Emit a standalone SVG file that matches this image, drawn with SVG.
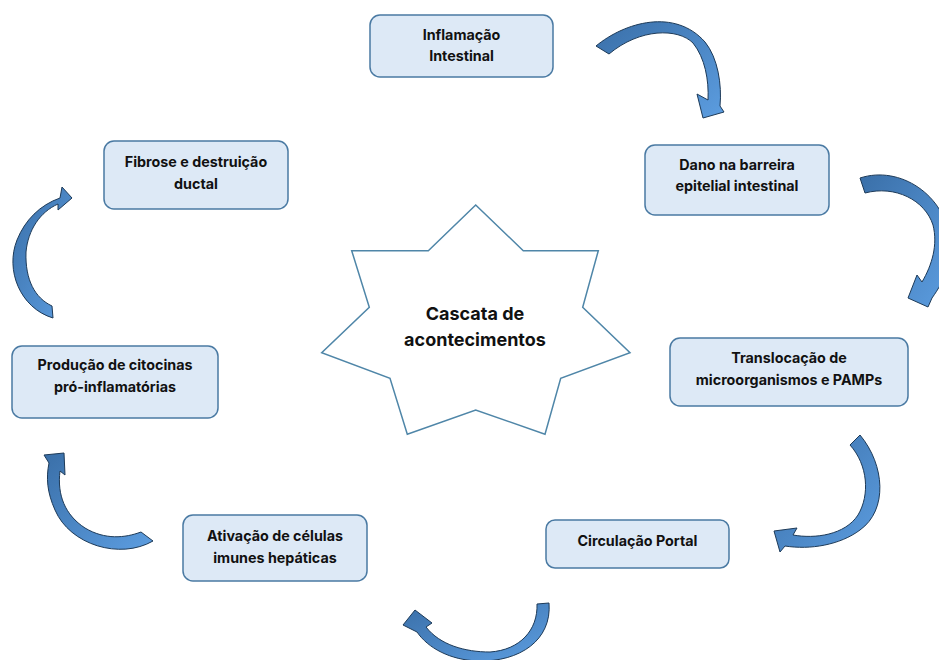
<svg xmlns="http://www.w3.org/2000/svg" width="939" height="660" viewBox="0 0 939 660">
<defs>
<linearGradient id="ag" x1="0" y1="0" x2="1" y2="1">
<stop offset="0" stop-color="#3a6fa8"/>
<stop offset="1" stop-color="#5c9de0"/>
</linearGradient>
<style>
.box{fill:#dde9f6;stroke:#4a7aa3;stroke-width:1.5}
.t{font-family:Inter,"Liberation Sans",sans-serif;font-weight:700;font-size:14.3px;fill:#111111;text-anchor:middle}
.st{font-family:Inter,"Liberation Sans",sans-serif;font-weight:700;font-size:18px;fill:#111111;text-anchor:middle}
.arr{fill:url(#ag);stroke:#1d3a58;stroke-width:1;stroke-linejoin:round}
.star{fill:#ffffff;stroke:#4f86a8;stroke-width:1.5}
</style>
</defs>
<rect width="939" height="660" fill="#ffffff"/>
<g id="star">
<polygon class="star" points="475.7,205 523.3,250.7 598.3,250.7 582.7,307.3 630,352.7 560.7,378.3 545,434.3 475.7,410 407.3,434.3 390,378.3 321.7,352.7 369.3,307.3 351.7,250.7 428.3,250.7"/>
<text class="st" x="475" y="320">Cascata de</text>
<text class="st" x="475" y="346">acontecimentos</text>
</g>
<g id="n1">
<rect class="box" x="370" y="15" width="183" height="62" rx="10"/>
<text class="t" x="461.5" y="40">Inflamação</text>
<text class="t" x="461.5" y="61">Intestinal</text>
</g>
<g id="n2">
<rect class="box" x="645" y="145" width="184" height="70" rx="10"/>
<text class="t" x="737" y="170">Dano na barreira</text>
<text class="t" x="737" y="191">epitelial intestinal</text>
</g>
<g id="n3">
<rect class="box" x="670" y="338" width="238" height="68" rx="10"/>
<text class="t" x="789" y="363">Translocação de</text>
<text class="t" x="789" y="385">microorganismos e PAMPs</text>
</g>
<g id="n4">
<rect class="box" x="546" y="520" width="183" height="48" rx="9"/>
<text class="t" x="637.5" y="546">Circulação Portal</text>
</g>
<g id="n5">
<rect class="box" x="183" y="515" width="184" height="66" rx="10"/>
<text class="t" x="275" y="541">Ativação de células</text>
<text class="t" x="275" y="563">imunes hepáticas</text>
</g>
<g id="n6">
<rect class="box" x="12" y="346" width="206" height="72" rx="10"/>
<text class="t" x="115" y="370">Produção de citocinas</text>
<text class="t" x="115" y="392">pró-inflamatórias</text>
</g>
<g id="n7">
<rect class="box" x="104" y="141" width="184" height="68" rx="10"/>
<text class="t" x="196" y="167">Fibrose e destruição</text>
<text class="t" x="196" y="189">ductal</text>
</g>
<g id="connectors">
<path class="arr" d="M596,46 C625,22 675,8 705,42 C718,58 722,85 720,106 L724,112 L703,118 L697,94 L708,100 C709,80 705,58 693,43 C678,28 640,28 609,54 Z"/>
<path class="arr" d="M860,178 C900,165 945,195 950,240 C952,262 945,280 932,298 L928,307 L908,298 L917,275 L922,282 C932,265 938,245 933,225 C925,200 895,185 865,193 Z"/>
<path class="arr" d="M860,435 C885,465 888,510 860,530 C840,545 810,550 785,546 L780,552 L774,531 L797,528 L793,535 C815,539 845,535 858,515 C870,495 868,465 850,445 Z"/>
<path class="arr" d="M549,603 C552,640 520,662 478,661 C450,660 428,648 417,632 L403,625 L415,610 L432,623 L426,627 C440,645 465,652 490,652 C520,650 538,630 537,604 Z"/>
<path class="arr" d="M153,541 C120,560 70,545 55,510 C47,492 46,478 49,463 L44,455 L64,453 L65,475 L60,471 C57,495 65,515 85,528 C105,540 125,538 141,532 Z"/>
<path class="arr" d="M53,318 C20,308 5,270 17,240 C25,220 40,205 60,198 L62,187 L72,198 L58,210 L58,204 C40,212 28,230 26,252 C25,280 35,298 52,306 Z"/>
</g>
</svg>
